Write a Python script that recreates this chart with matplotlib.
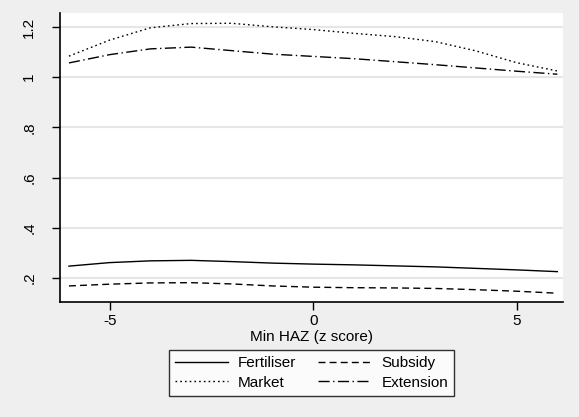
import numpy as np
import matplotlib.pyplot as plt

plt.rcParams['font.family'] = ['Liberation Sans', 'DejaVu Sans']
plt.rcParams['axes.unicode_minus'] = False

# Fitted outcomes by minimum height-for-age z score
haz = [-6, -5, -4, -3, -2, -1, 0, 1, 2, 3, 4, 5, 6]
fertiliser = [0.247, 0.261, 0.268, 0.270, 0.265, 0.259, 0.255, 0.252, 0.248, 0.244, 0.238, 0.232, 0.225]
subsidy = [0.168, 0.175, 0.180, 0.181, 0.176, 0.168, 0.163, 0.161, 0.160, 0.158, 0.153, 0.147, 0.139]
market = [1.084, 1.148, 1.197, 1.214, 1.215, 1.201, 1.190, 1.175, 1.162, 1.142, 1.105, 1.058, 1.025]
extension = [1.057, 1.090, 1.113, 1.120, 1.106, 1.092, 1.083, 1.074, 1.062, 1.050, 1.037, 1.024, 1.012]

yticks = [0.2, 0.4, 0.6, 0.8, 1.0, 1.2]
ytick_labels = ['.2', '.4', '.6', '.8', '1', '1.2']
xticks = [-5, 0, 5]

bg = '#efefef'
fs = 11
fig = plt.figure(figsize=(5.79, 4.17), dpi=100, facecolor=bg)
ax = fig.add_axes([0.1036, 0.2758, 0.8688, 0.6930])
ax.set_facecolor('white')

lw = 1.0
l_fert, = ax.plot(haz, fertiliser, color='black', lw=lw, label='Fertiliser')
l_sub, = ax.plot(haz, subsidy, color='black', lw=lw, dashes=(5, 3), label='Subsidy')
l_mkt, = ax.plot(haz, market, color='black', lw=lw, dashes=(1.2, 2.2), label='Market')
l_ext, = ax.plot(haz, extension, color='black', lw=lw, dashes=(8, 2.5, 1, 2.5), label='Extension')

ax.set_xlim(-6.22, 6.14)
ax.set_ylim(0.104, 1.256)
ax.set_yticks(yticks)
ax.set_yticklabels(ytick_labels, rotation=90, va='center')
ax.set_xticks(xticks)
ax.grid(axis='y', color='#e6e6e6', lw=1.5)
ax.set_axisbelow(True)

for side in ['top', 'right']:
    ax.spines[side].set_visible(False)
for side in ['left', 'bottom']:
    ax.spines[side].set_linewidth(1.2)
ax.tick_params(direction='out', length=6, width=1, labelsize=fs, pad=3)
ax.tick_params(axis='y', pad=11)

ax.set_xlabel('Min HAZ (z score)', fontsize=fs, labelpad=1)

leg = fig.legend([l_fert, l_mkt, l_sub, l_ext], ['Fertiliser', 'Market', 'Subsidy', 'Extension'],
                 ncol=2, loc='center', bbox_to_anchor=(0.538, 0.1055), fontsize=fs,
                 frameon=True, fancybox=False, edgecolor='black', handlelength=3.5,
                 columnspacing=1.4, handletextpad=0.65, labelspacing=0.35,
                 borderpad=0.4)
leg.get_frame().set_linewidth(1.0)

fig.savefig('out.png', dpi=100, facecolor=bg)
